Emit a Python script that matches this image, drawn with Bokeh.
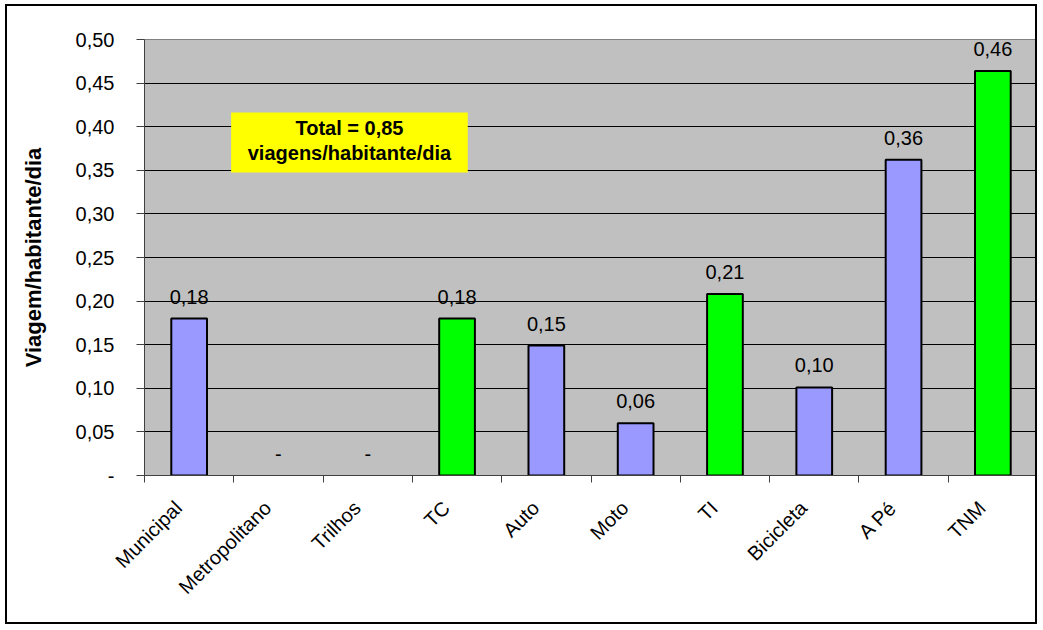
from bokeh.plotting import figure
from bokeh.models import (ColumnDataSource, Range1d, FixedTicker, CustomJSTickFormatter,
                          LabelSet, Label, BoxAnnotation)
from bokeh.core.properties import value
from bokeh.embed import file_html
from bokeh.resources import INLINE

categories = ["Municipal", "Metropolitano", "Trilhos", "TC", "Auto", "Moto", "TI",
              "Bicicleta", "A Pé", "TNM"]
values = [0.18, 0.0, 0.0, 0.18, 0.149, 0.06, 0.208, 0.101, 0.362, 0.464]
colors = ["#9999FF", "#9999FF", "#9999FF", "#00FF00", "#9999FF", "#9999FF", "#00FF00",
          "#9999FF", "#9999FF", "#00FF00"]
y_ticks = [0.0, 0.05, 0.10, 0.15, 0.20, 0.25, 0.30, 0.35, 0.40, 0.45, 0.50]
total_text = ["Total = 0,85", "viagens/habitante/dia"]
y_title = "Viagem/habitante/dia"

FONT = "Liberation Sans"

xc = [i + 0.5 for i in range(len(categories))]
labels = [(f"{v:.2f}".replace(".", ",") if v > 0 else "-") for v in values]
lab_src = ColumnDataSource(dict(x=xc, top=values, label=labels))
nz = [i for i, v in enumerate(values) if v > 0]
bar_src = ColumnDataSource(dict(x=[xc[i] for i in nz], top=[values[i] for i in nz],
                                color=[colors[i] for i in nz]))

p = figure(width=1032, height=620, output_backend="svg", toolbar_location=None,
           x_range=Range1d(0, len(categories)), y_range=Range1d(0, 0.5),
           min_border_left=137, min_border_right=2, min_border_top=33, min_border_bottom=151,
           background_fill_color="#C0C0C0", border_fill_color="white")
p.styles = {"border": "2px solid black", "margin-left": "5px", "margin-top": "4px"}
p.outline_line_color = "#808080"
p.outline_line_width = 1

p.vbar(x="x", top="top", width=0.4, bottom=0, fill_color="color", line_color="black",
       line_width=2, source=bar_src)

p.xgrid.visible = False
p.ygrid.ticker = FixedTicker(ticks=y_ticks)
p.ygrid.grid_line_color = "black"
p.ygrid.grid_line_width = 1

yax = p.yaxis[0]
yax.ticker = FixedTicker(ticks=y_ticks)
yax.formatter = CustomJSTickFormatter(code="return tick < 1e-9 ? '-' : tick.toFixed(2).replace('.', ',');")
yax.major_tick_out = 8
yax.major_tick_in = 0
yax.minor_tick_out = 0
yax.minor_tick_in = 0
yax.axis_line_color = "#404040"
yax.major_tick_line_color = "#404040"
yax.major_label_text_font = FONT
yax.major_label_text_font_size = "20px"
yax.major_label_text_color = "black"
yax.major_label_standoff = 22
yax.axis_label = y_title
yax.axis_label_text_font = FONT
yax.axis_label_text_font_style = "bold"
yax.axis_label_text_font_size = "22px"
yax.axis_label_text_color = "black"
yax.axis_label_standoff = 27

# category labels sit slightly left of the bar centre, as in the original
label_ticks = [x - 0.12 for x in xc]
xax = p.xaxis[0]
xax.ticker = FixedTicker(ticks=label_ticks, minor_ticks=list(range(len(categories) + 1)))
xax.formatter = CustomJSTickFormatter(args=dict(names=categories),
                                      code="return names[Math.round(tick - 0.38)];")
xax.major_tick_out = 0
xax.major_tick_in = 0
xax.minor_tick_out = 7
xax.minor_tick_in = 0
xax.minor_tick_line_color = "#404040"
xax.axis_line_color = "#404040"
xax.major_label_orientation = 0.785398
xax.major_label_text_font = FONT
xax.major_label_text_font_size = "20px"
xax.major_label_text_color = "black"
xax.major_label_standoff = 22

p.add_layout(LabelSet(x="x", y="top", text="label", source=lab_src, text_align="center",
                      text_baseline="bottom", y_offset=15, text_font=value(FONT),
                      text_font_size=value("20px"), text_color="black"))

p.add_layout(BoxAnnotation(left=0.97, right=3.62, bottom=0.3475, top=0.4163,
                           fill_color="#FFFF00", fill_alpha=1.0, line_alpha=0))
for txt, yy in zip(total_text, [0.399, 0.3704]):
    p.add_layout(Label(x=2.295, y=yy, text=txt, text_align="center", text_baseline="middle",
                       text_font=FONT, text_font_style="bold", text_font_size="20px",
                       text_color="black"))

open("out.html", "w").write(file_html(p, INLINE))
